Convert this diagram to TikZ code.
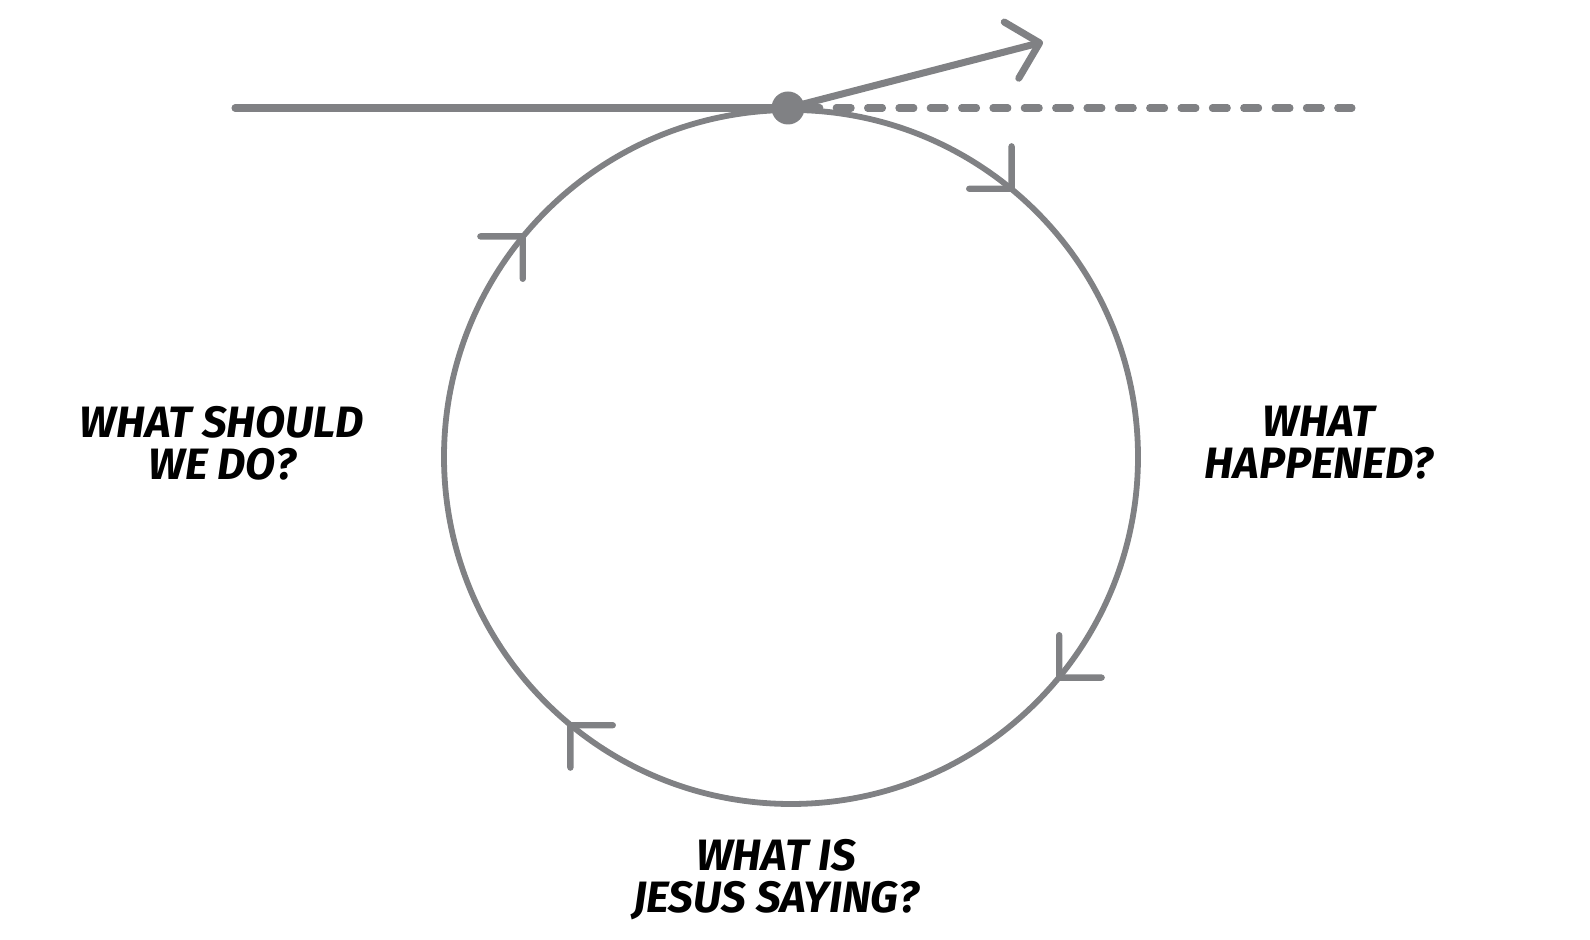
\documentclass[tikz,border=0pt]{standalone}
\usepackage{fontspec}
\setmainfont{Fira Sans}
\usetikzlibrary{arrows.meta,decorations.markings}
\definecolor{loopgrey}{HTML}{808184}

\begin{document}
\begin{tikzpicture}[x=0.02cm,y=0.02cm,
    line/.style={loopgrey,line width=4pt,line cap=round},
    ring/.style={loopgrey,line width=3.3pt},
    barb/.style={-{Straight Barb[length=0.58cm,width=1.16cm,round]}},
    dashline/.style={line,dash pattern=on 0.3cm off 0.327cm},
    ask/.style={align=center,font=\fontsize{25}{24}\selectfont\bfseries\itshape,text=black}]
  \useasboundingbox (0,0) rectangle (1590,940);
  % the loop
  \coordinate (ctr) at (791,483);
  \draw[ring,postaction={decorate},decoration={markings,
      mark=at position 0.111 with {\pgftransformrotate{-5}\arrow[line width=3.6pt]{Straight Barb[length=0.6cm,width=1.2cm,round]}},
      mark=at position 0.361 with {\pgftransformrotate{-5}\arrow[line width=3.6pt]{Straight Barb[length=0.6cm,width=1.2cm,round]}},
      mark=at position 0.611 with {\pgftransformrotate{-5}\arrow[line width=3.6pt]{Straight Barb[length=0.6cm,width=1.2cm,round]}},
      mark=at position 0.861 with {\pgftransformrotate{-5}\arrow[line width=3.6pt]{Straight Barb[length=0.6cm,width=1.2cm,round]}}}]
    (ctr) ++(0,347) arc[start angle=90,end angle=-270,radius=347];
  % the line of time
  \node[circle,fill=loopgrey,minimum size=0.66cm,inner sep=0pt](dot) at (788,832){};
  \coordinate (start) at (235,832);
  \coordinate (dashend) at (1352,832);
  \coordinate (aim) at (1043,898);
  \draw[line](start)--(dot.center);
  \draw[dashline](dot.east)--(dashend);
  \draw[line,barb](dot.center)--(aim);
  % questions
  \node[ask](do) at (222,497){WHAT SHOULD\\WE DO?};
  \node[ask](happened) at (1319,497){WHAT\\HAPPENED?};
  \node[ask](saying) at (776,60){WHAT IS\\JESUS SAYING?};
\end{tikzpicture}
\end{document}
